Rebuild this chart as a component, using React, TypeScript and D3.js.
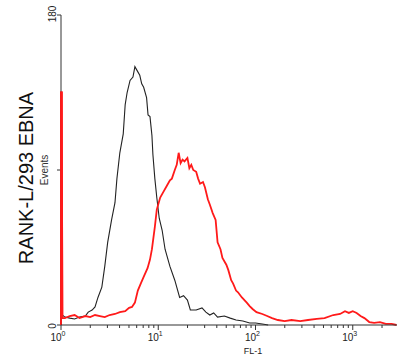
import React from "react";
import * as d3 from "d3";

// FL-1 channel position (log10 of intensity) and event counts
const blackLog = [0, 0, 0.01, 0.04, 0.09, 0.14, 0.19, 0.25, 0.28, 0.32, 0.35, 0.38, 0.42, 0.45, 0.48, 0.52, 0.555, 0.575, 0.605, 0.64, 0.66, 0.68, 0.71, 0.74, 0.76, 0.78, 0.81, 0.83, 0.85, 0.88, 0.895, 0.915, 0.935, 0.945, 0.965, 0.985, 1.01, 1.04, 1.07, 1.12, 1.17, 1.22, 1.26, 1.3, 1.33, 1.39, 1.45, 1.49, 1.53, 1.57, 1.61, 1.68, 1.74, 1.8, 1.87, 1.94, 2.0, 2.07, 2.13];
const blackCounts = [0, 25, 6, 4.6, 4, 3.5, 4.6, 5.2, 7.5, 8.7, 10.5, 16, 22, 34, 48, 61, 71, 85, 100, 111, 128, 135, 142, 144, 150, 148, 145, 140, 138, 132, 122, 121, 110, 99, 85, 74, 62, 55, 44, 34, 26, 16, 17, 14.5, 8.7, 8.7, 9.9, 7.5, 5.8, 7, 4.6, 5.2, 4, 2.9, 2.3, 1.2, 1.2, 0.6, 0];

const redLog = [0, 0, 0.008, 0.014, 0.04, 0.09, 0.14, 0.19, 0.25, 0.3, 0.35, 0.4, 0.45, 0.5, 0.555, 0.605, 0.66, 0.7, 0.73, 0.76, 0.79, 0.82, 0.85, 0.89, 0.915, 0.935, 0.965, 0.985, 1.02, 1.05, 1.09, 1.12, 1.14, 1.17, 1.19, 1.21, 1.23, 1.25, 1.27, 1.3, 1.32, 1.34, 1.36, 1.39, 1.41, 1.43, 1.46, 1.48, 1.51, 1.53, 1.56, 1.59, 1.61, 1.64, 1.66, 1.7, 1.72, 1.75, 1.77, 1.8, 1.82, 1.86, 1.91, 1.94, 1.97, 2.01, 2.07, 2.12, 2.17, 2.23, 2.3, 2.37, 2.46, 2.54, 2.63, 2.71, 2.8, 2.87, 2.92, 2.96, 3.0, 3.04, 3.08, 3.12, 3.17, 3.22, 3.28, 3.34, 3.4, 3.45];
const redCounts = [0, 135, 135, 4, 4, 5.2, 5.8, 4, 5.2, 4.6, 5.8, 5.2, 4.6, 5.8, 6.4, 7.5, 8, 10, 10.5, 13, 20, 24, 28, 33, 38, 44, 57, 67, 74, 77, 81, 84, 85, 90, 93, 100, 94, 96, 95, 97, 91, 93, 90, 89, 85, 82, 83, 80, 73, 70, 65, 61, 48, 44, 39, 35, 32, 26, 24, 20, 19, 16, 13, 11, 9.3, 7.5, 6.4, 5.2, 4, 2.9, 2.3, 2.9, 2.3, 2.9, 3.5, 4, 5.8, 6.4, 8, 7, 8, 7, 5.2, 4, 1.7, 1.2, 1.7, 0.6, 0.6, 0];

const yTicks = [0, 90, 180];
const xDecades = [0, 1, 2, 3];
const yLabel = "RANK-L/293 EBNA";
const yTitle = "Events";
const xTitle = "FL-1";

export default function App() {
  const W = 400, H = 362;
  const x = d3.scaleLog().domain([1, 10000]).range([61, 450]);
  const y = d3.scaleLinear().domain([0, 180]).range([325, 15]);
  const axisEnd = 397;

  const mk = (logs: number[], counts: number[]) =>
    d3.line<number>()
      .x((_, i) => x(Math.pow(10, logs[i])))
      .y((_, i) => y(counts[i]))
      .curve(d3.curveLinear)(counts) || "";

  const minor: number[] = [];
  for (const d of [0, 1, 2, 3]) {
    for (let m = 2; m <= 9; m++) {
      const v = m * Math.pow(10, d);
      if (x(v) <= axisEnd) minor.push(v);
    }
  }
  const font = "Arial, 'Liberation Sans', sans-serif";

  return (
    <svg width={W} height={H} style={{ position: "absolute", left: 0, top: 0, background: "#fff" }}>
      <rect x={0} y={0} width={W} height={H} fill="#fff" />
      <path d={mk(blackLog, blackCounts)} fill="none" stroke="#222" strokeWidth={1.1} strokeLinejoin="miter" />
      <path d={mk(redLog, redCounts)} fill="none" stroke="#ff1a1a" strokeWidth={1.8} />
      {/* y axis */}
      <line x1={61} x2={61} y1={y(180)} y2={y(0)} stroke="#333" strokeWidth={1} />
      {yTicks.map((t) => (
        <line key={t} x1={57} x2={61} y1={y(t)} y2={y(t)} stroke="#333" />
      ))}
      <path d={mk(redLog.slice(0, 4), redCounts.slice(0, 4))} fill="none" stroke="#ff1a1a" strokeWidth={1.8} />
      <text transform={`translate(56,${y(180) - 1}) rotate(-90)`} fontSize={10} fontFamily={font} textAnchor="middle" fill="#222">180</text>
      <text transform={`translate(56,${y(0) + 1}) rotate(-90)`} fontSize={10} fontFamily={font} textAnchor="middle" fill="#222">0</text>
      <text transform={`translate(48,${y(90)}) rotate(-90)`} fontSize={10} fontFamily={font} textAnchor="middle" fill="#333">{yTitle}</text>
      <text transform={`translate(33,${y(90) + 8}) rotate(-90)`} fontSize={20} fontFamily={font} textAnchor="middle" fill="#111">{yLabel}</text>
      {/* x axis */}
      <line x1={61} x2={axisEnd} y1={325} y2={325} stroke="#333" strokeWidth={1.2} />
      {xDecades.map((d) => (
        <line key={d} x1={x(Math.pow(10, d))} x2={x(Math.pow(10, d))} y1={325} y2={330} stroke="#333" />
      ))}
      {minor.map((v, i) => (
        <line key={i} x1={x(v)} x2={x(v)} y1={325} y2={328} stroke="#333" />
      ))}
      {xDecades.map((d) => (
        <text key={d} x={x(Math.pow(10, d)) - 3} y={341} fontSize={10} fontFamily={font} textAnchor="middle" fill="#222">
          10<tspan dy={-5} fontSize={7}>{d}</tspan>
        </text>
      ))}
      <text x={253} y={354} fontSize={9} fontFamily={font} textAnchor="middle" fill="#222">{xTitle}</text>
    </svg>
  );
}
